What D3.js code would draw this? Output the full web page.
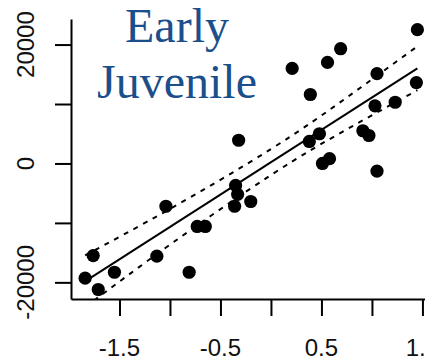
<!DOCTYPE html>
<html>
<head>
<meta charset="utf-8">
<script src="https://cdn.jsdelivr.net/npm/d3@7"></script>
<style>
  body { margin: 0; background: #fff; }
  svg { display: block; }
  .axis path, .axis line { stroke: #000; stroke-width: 2; }
  .tick-label { font-family: "Liberation Sans", Arial, sans-serif; font-size: 24px; fill: #111; }
  .title { font-family: "Liberation Serif", "Times New Roman", serif; font-size: 48px; fill: #1b4f8c; }
</style>
</head>
<body>
<div id="chart"></div>
<script>
// Data
const xVals = [-1.84, -1.76, -1.71, -1.55, -1.13, -1.04, -0.81, -0.73, -0.65, -0.32,
               -0.35, -0.33, -0.36, -0.20, 0.21, 0.39, 0.38, 0.48, 0.51, 0.58,
               0.56, 0.69, 0.91, 0.97, 1.05, 1.03, 1.05, 1.23, 1.45, 1.44];
const yVals = [-19300, -15500, -21200, -18300, -15600, -7200, -18300, -10600, -10600, 3900,
               -3700, -5200, -7200, -6400, 16000, 11600, 3700, 5000, 0, 800,
               17000, 19300, 5500, 4700, 15100, 9700, -1300, 10300, 22500, 13600];

// fitted line and its band
const fitX = [-1.81, 1.45];
const fitY = [-19500, 16000];
const bandX = [-1.84, -1.0, 0, 0.75, 1.45];
const bandUpper = [-15450, -7650, 2420, 11080, 19710];
const bandLower = [-24180, -13660, -1950, 5730, 12320];

const xTicks = [-1.5, -1.0, -0.5, 0, 0.5, 1.0, 1.5];
const xLabels = [-1.5, -0.5, 0.5, 1.5];
const yTicks = [-20000, -10000, 0, 10000, 20000];
const yLabels = [-20000, 0, 20000];
const titleLines = ["Early", "Juvenile"];

const width = 425, height = 361;
const svg = d3.select('#chart').append('svg')
    .attr('width', width)
    .attr('height', height);

// Scales
const x = d3.scaleLinear().domain([-1.98, 1.56]).range([71, 428.5]);
const y = d3.scaleLinear().domain([-22800, 24300]).range([299, 19]);

svg.append('defs').append('clipPath').attr('id', 'plotClip')
  .append('rect')
    .attr('x', x.range()[0]).attr('y', y.range()[1])
    .attr('width', x.range()[1] - x.range()[0])
    .attr('height', y.range()[0] - y.range()[1]);

// Axes
svg.append('g')
   .attr('class', 'axis')
   .attr('transform', `translate(${x.range()[0]}, 0)`)
   .call(d3.axisLeft(y).tickValues(yTicks).tickSizeInner(16).tickSizeOuter(0).tickFormat(''));

svg.append('g')
   .attr('class', 'axis')
   .attr('transform', `translate(0, ${y.range()[0]})`)
   .call(d3.axisBottom(x).tickValues(xTicks).tickSizeInner(17).tickSizeOuter(0).tickFormat(''));

svg.selectAll('.xlab')
   .data(xLabels)
   .enter()
   .append('text')
   .attr('class', 'tick-label')
   .attr('text-anchor', 'middle')
   .attr('x', d => x(d))
   .attr('y', 356)
   .text(d => d);

svg.selectAll('.ylab')
   .data(yLabels)
   .enter()
   .append('text')
   .attr('class', 'tick-label')
   .attr('text-anchor', 'middle')
   .attr('transform', d => `translate(34, ${y(d)}) rotate(-90)`)
   .text(d => d);

// Band and fit
const plot = svg.append('g').attr('clip-path', 'url(#plotClip)');

const bandLine = d3.line().curve(d3.curveNatural)
    .x(d => x(d[0]))
    .y(d => y(d[1]));

[bandUpper, bandLower].forEach(vals => {
    plot.append('path')
        .datum(bandX.map((v, i) => [v, vals[i]]))
        .attr('d', bandLine)
        .attr('fill', 'none')
        .attr('stroke', '#000')
        .attr('stroke-width', 2)
        .attr('stroke-dasharray', '5,6');
});

plot.append('path')
    .datum(fitX.map((v, i) => [v, fitY[i]]))
    .attr('d', d3.line().x(d => x(d[0])).y(d => y(d[1])))
    .attr('fill', 'none')
    .attr('stroke', '#000')
    .attr('stroke-width', 2);

// Points
svg.selectAll('circle')
   .data(xVals.map((v, i) => ({x: v, y: yVals[i]})))
   .enter()
   .append('circle')
   .attr('cx', d => x(d.x))
   .attr('cy', d => y(d.y))
   .attr('r', 6.6)
   .attr('fill', '#000');

// Title
svg.selectAll('.title')
   .data(titleLines)
   .enter()
   .append('text')
   .attr('class', 'title')
   .attr('text-anchor', 'middle')
   .attr('x', 177)
   .attr('y', (d, i) => 42 + i * 56)
   .text(d => d);
</script>
</body>
</html>
